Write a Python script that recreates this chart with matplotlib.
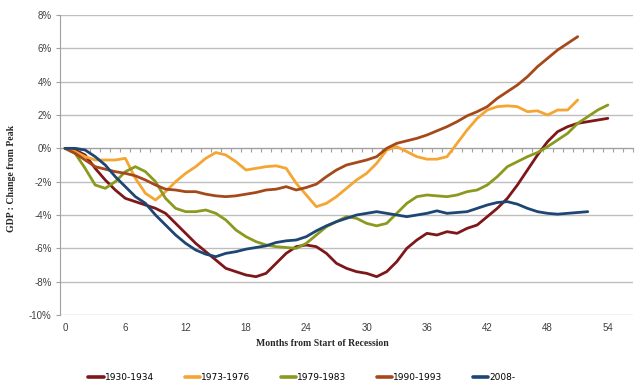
import numpy as np
import matplotlib
matplotlib.use('Agg')
import matplotlib.pyplot as plt

# GDP change from pre-recession peak (%), by month from start of recession
GDP_1930 = [0, -0.1, -0.4, -1.2, -1.9, -2.5, -3.0, -3.2, -3.4, -3.6, -3.9, -4.5, -5.1,
            -5.7, -6.2, -6.7, -7.2, -7.4, -7.6, -7.7, -7.5, -6.9, -6.3, -5.9, -5.8, -5.9,
            -6.3, -6.9, -7.2, -7.4, -7.5, -7.7, -7.4, -6.8, -6.0, -5.5, -5.1, -5.2, -5.0,
            -5.1, -4.8, -4.6, -4.1, -3.6, -3.0, -2.2, -1.3, -0.4, 0.4, 1.0, 1.3, 1.5, 1.6,
            1.7, 1.8]
GDP_1973 = [0, -0.2, -0.5, -0.7, -0.7, -0.7, -0.6, -1.8, -2.7, -3.1, -2.6, -2.0, -1.5,
            -1.1, -0.6, -0.25, -0.4, -0.8, -1.3, -1.2, -1.1, -1.05, -1.2, -2.1, -2.8, -3.5,
            -3.3, -2.9, -2.4, -1.9, -1.5, -0.9, -0.1, 0.1, -0.2, -0.5, -0.65, -0.65, -0.5,
            0.3, 1.1, 1.8, 2.3, 2.5, 2.55, 2.5, 2.2, 2.25, 2.0, 2.3, 2.3, 2.9]
GDP_1979 = [0, -0.3, -1.2, -2.2, -2.4, -2.0, -1.4, -1.1, -1.4, -2.0, -3.0, -3.6, -3.8,
            -3.8, -3.7, -3.9, -4.3, -4.9, -5.3, -5.6, -5.8, -5.9, -5.95, -6.0, -5.7, -5.2,
            -4.7, -4.4, -4.1, -4.2, -4.5, -4.65, -4.5, -3.9, -3.3, -2.9, -2.8, -2.85, -2.9,
            -2.8, -2.6, -2.5, -2.2, -1.7, -1.1, -0.8, -0.5, -0.25, 0.1, 0.5, 0.9, 1.5, 1.9,
            2.3, 2.6]
GDP_1990 = [0, -0.3, -0.7, -1.1, -1.25, -1.4, -1.5, -1.65, -1.9, -2.2, -2.45, -2.5, -2.6,
            -2.6, -2.75, -2.85, -2.9, -2.85, -2.75, -2.65, -2.5, -2.45, -2.3, -2.5, -2.35,
            -2.15, -1.7, -1.3, -1.0, -0.85, -0.7, -0.5, 0.0, 0.3, 0.45, 0.6, 0.8, 1.05, 1.3,
            1.6, 1.95, 2.2, 2.5, 3.0, 3.4, 3.8, 4.3, 4.9, 5.4, 5.9, 6.3, 6.7]
GDP_2008 = [0, 0.0, -0.1, -0.5, -1.0, -1.7, -2.3, -2.9, -3.3, -4.0, -4.6, -5.2, -5.7,
            -6.1, -6.35, -6.5, -6.3, -6.2, -6.05, -5.95, -5.85, -5.65, -5.55, -5.5, -5.3,
            -4.95, -4.65, -4.4, -4.2, -4.0, -3.9, -3.8, -3.9, -4.0, -4.1, -4.0, -3.9, -3.75,
            -3.9, -3.85, -3.8, -3.6, -3.4, -3.25, -3.2, -3.35, -3.6, -3.8, -3.9, -3.95,
            -3.9, -3.85, -3.8]

SERIES = [('1930-1934', GDP_1930, '#7E1719'),
          ('1973-1976', GDP_1973, '#F4A532'),
          ('1979-1983', GDP_1979, '#8B9A1E'),
          ('1990-1993', GDP_1990, '#A5491B'),
          ('2008-', GDP_2008, '#1D4673')]
N_MONTHS = 57
X_TICKS = list(range(0, 55, 6))
Y_TICKS = list(range(-10, 9, 2))

fig = plt.figure(figsize=(6.4, 3.91), dpi=100)
ax = fig.add_axes([60 / 640, 1 - 315 / 391, 573 / 640, 300 / 391])

for label, vals, color in SERIES:
    ax.plot(np.arange(len(vals)), vals, color=color, lw=2.0, label=label,
            solid_capstyle='round', zorder=3)

ax.set_xlim(-0.5, N_MONTHS - 0.5)
ax.set_ylim(-10, 8)
ax.set_yticks(Y_TICKS)
ax.set_yticklabels([f'{v}%' for v in Y_TICKS], fontsize=7, color='#404040',
                   family='Liberation Sans')
ax.grid(axis='y', color='#BEBEBE', lw=1.0, zorder=0)
ax.tick_params(axis='y', length=3, color='#A0A0A0', pad=3)

# category axis crosses at 0%: tick marks between months, labels at the bottom
for s in ['top', 'right']:
    ax.spines[s].set_visible(False)
ax.spines['left'].set_color('#A0A0A0')
ax.spines['bottom'].set_position(('data', 0))
ax.spines['bottom'].set_color('#A0A0A0')
ax.set_xticks(np.arange(N_MONTHS + 1) - 0.5)
ax.set_xticklabels([])
ax.tick_params(axis='x', length=3, color='#A0A0A0', direction='out')

sec = ax.secondary_xaxis('bottom')
sec.set_xticks(X_TICKS)
sec.set_xticklabels([str(v) for v in X_TICKS], fontsize=7, color='#404040',
                    family='Liberation Sans')
sec.tick_params(length=0, pad=6)
sec.spines['bottom'].set_visible(False)

fig.text(322 / 640, 1 - 344 / 391, 'Months from Start of Recession', ha='center',
         va='center', fontsize=7, fontweight='bold', family='Liberation Serif',
         color='#262626')
fig.text(12 / 640, 1 - 178 / 391, 'GDP : Change from Peak', ha='center', va='center',
         rotation=90, fontsize=7, fontweight='bold', family='Liberation Serif',
         color='#262626')

handles, labels = ax.get_legend_handles_labels()
leg = fig.legend(handles, labels, loc='center', bbox_to_anchor=(302 / 640, 1 - 378 / 391),
                 ncol=5, frameon=False, handlelength=1.7, handletextpad=0.1,
                 columnspacing=3.4, prop={'family': 'DejaVu Sans', 'size': 6.5})
for line in leg.get_lines():
    line.set_linewidth(2.6)

fig.savefig('out.png', dpi=100)
